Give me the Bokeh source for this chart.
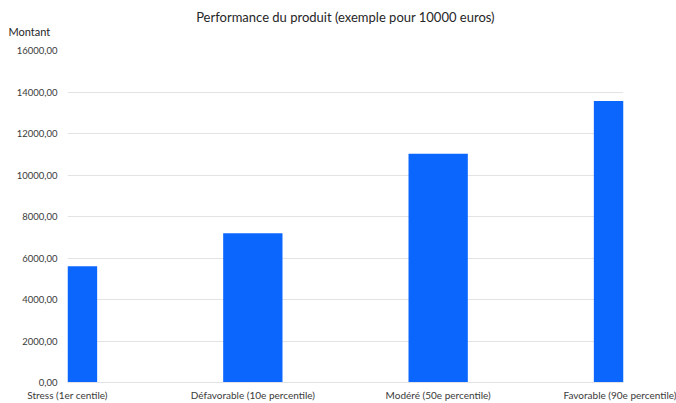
from bokeh.plotting import figure
from bokeh.models import Range1d, FixedTicker, Title
from bokeh.embed import file_html
from bokeh.resources import INLINE

categories = ["Stress (1er centile)", "Défavorable (10e percentile)",
              "Modéré (50e percentile)", "Favorable (90e percentile)"]
values = [5600, 7190, 11030, 13570]
y_ticks = [0, 2000, 4000, 6000, 8000, 10000, 12000, 14000, 16000]
y_tick_labels = [f"{t},00" for t in y_ticks]
title_text = "Performance du produit (exemple pour 10000 euros)"
y_title = "Montant"

FONT = "Lato"
TXT = "#3a3a3a"

positions = list(range(len(categories)))

p = figure(width=676, height=403, output_backend="svg", toolbar_location=None,
           x_range=Range1d(positions[0], positions[-1]), y_range=Range1d(0, 16000),
           min_border_left=67, min_border_right=53, min_border_bottom=19, min_border_top=50)

p.vbar(x=positions, top=values, width=0.32, color="#0b66fe", line_color=None)

p.title.text = title_text
p.title.align = "center"
p.title.text_font = FONT
p.title.text_font_size = "13px"
p.title.text_font_style = "normal"
p.title.text_color = "#262626"
p.title.standoff = -30

sub = Title(text=y_title, align="left", offset=-59, text_font=FONT,
            text_font_size="11px", text_font_style="normal", text_color="#262626",
            standoff=26)
p.add_layout(sub, "above")

p.outline_line_color = None
p.xgrid.grid_line_color = None
p.ygrid.grid_line_color = "#e3e3e3"
p.ygrid.grid_line_width = 1

p.yaxis.ticker = FixedTicker(ticks=y_ticks)
p.yaxis.major_label_overrides = dict(zip(y_ticks, y_tick_labels))
p.yaxis.axis_line_color = None
p.yaxis.major_tick_line_color = None
p.yaxis.minor_tick_line_color = None
p.yaxis.major_tick_out = 0
p.yaxis.major_tick_in = 0
p.yaxis.major_label_text_font = FONT
p.yaxis.major_label_text_font_size = "9.5px"
p.yaxis.major_label_text_color = TXT
p.yaxis.major_label_standoff = 10

p.xaxis.ticker = FixedTicker(ticks=positions)
p.xaxis.major_label_overrides = dict(zip(positions, categories))
p.xaxis.axis_line_color = "#e3e3e3"
p.xaxis.major_tick_line_color = None
p.xaxis.minor_tick_line_color = None
p.xaxis.major_tick_out = 0
p.xaxis.major_tick_in = 0
p.xaxis.major_label_text_font = FONT
p.xaxis.major_label_text_font_size = "10px"
p.xaxis.major_label_text_color = TXT
p.xaxis.major_label_standoff = 6

open("out.html", "w").write(file_html(p, INLINE))
